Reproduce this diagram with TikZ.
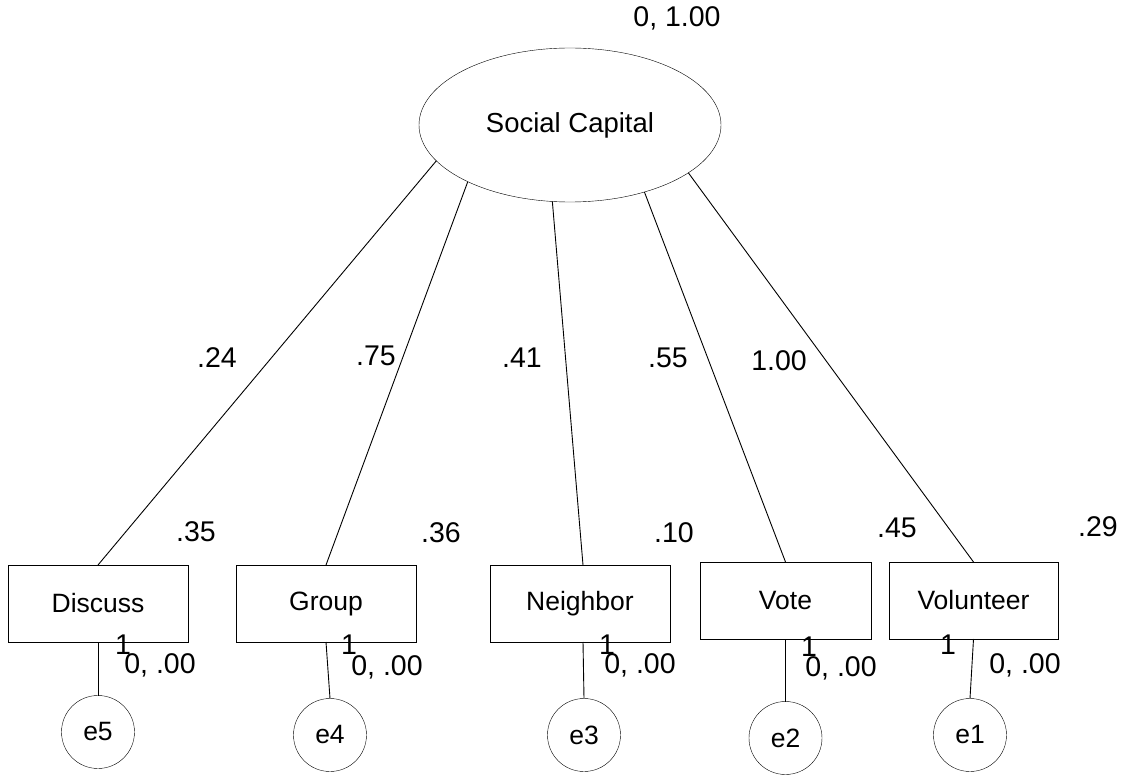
\documentclass[tikz,border=0pt]{standalone}
\usepackage{fontspec}
\setmainfont{Liberation Sans}
\usetikzlibrary{shapes.geometric}
\begin{document}
\begin{tikzpicture}[x=1pt,y=-1pt,
  every node/.style={inner sep=0pt,outer sep=0pt},
  lat/.style={draw,ellipse,minimum width=302pt,minimum height=154pt,font=\fontsize{27.5}{32}\selectfont},
  obs/.style={draw,rectangle,minimum height=77pt,font=\fontsize{26.5}{31}\selectfont},
  err/.style={draw,circle,minimum size=73pt,font=\fontsize{26.5}{31}\selectfont},
  num/.style={font=\fontsize{28.5}{33}\selectfont},
  link/.style={line width=0.9pt}]
\useasboundingbox (0,0) rectangle (1133,775);
\node[lat] (sc) at (570,125) {Social Capital};
\node[num] (scv) at (677,18) {0, 1.00};
% observed
\node[obs,minimum width=180pt] (dis) at (98,603.5) {Discuss};
\node[obs,minimum width=180pt] (grp) at (326,603.5) {Group};
\node[obs,minimum width=180pt] (nei) at (580,603.5) {Neighbor};
\node[obs,minimum width=171pt] (vot) at (785.5,600.5) {Vote};
\node[obs,minimum width=169pt] (vol) at (973.5,600.5) {Volunteer};
% errors
\node[err] (e5) at (98,732) {e5};
\node[err] (e4) at (330,735) {e4};
\node[err] (e3) at (584,735) {e3};
\node[err] (e2) at (785.5,738) {e2};
\node[err] (e1) at (970,735) {e1};
% loadings
\draw[link] (sc.195.4) -- (dis.north);
\draw[link] (sc.209.6) -- (grp.north);
\draw[link] (sc.257.5) -- ([xshift=3pt]nei.north);
\draw[link] (sc.318.2) -- (vot.north);
\draw[link] (sc.338.8) -- (vol.north);
% error links
\draw[link] (dis.south) -- (e5.north);
\draw[link] (grp.south) -- (e4.north);
\draw[link] ([xshift=3pt]nei.south) -- (e3.north);
\draw[link] (vot.south) -- (e2.north);
\draw[link] (vol.south) -- (e1.north);
% loading labels
\node[num] (l1) at (217,358) {.24};
\node[num] (l2) at (376,356) {.75};
\node[num] (l3) at (522,358) {.41};
\node[num] (l4) at (668,358) {.55};
\node[num] (l5) at (779,361) {1.00};
% r2 labels
\node[num] (r1) at (196,532) {.35};
\node[num] (r2) at (441,533) {.36};
\node[num] (r3) at (674,533) {.10};
\node[num] (r4) at (897,528) {.45};
\node[num] (r5) at (1098,527) {.29};
% ones
\node[num] (o1) at (123,645) {1};
\node[num] (o2) at (349,645) {1};
\node[num] (o3) at (607,645) {1};
\node[num] (o4) at (809,647) {1};
\node[num] (o5) at (948,645) {1};
% error means
\node[num] (m1) at (160,665) {0, .00};
\node[num] (m2) at (387,667) {0, .00};
\node[num] (m3) at (640,665) {0, .00};
\node[num] (m4) at (841,668) {0, .00};
\node[num] (m5) at (1025,665) {0, .00};
\end{tikzpicture}
\end{document}
